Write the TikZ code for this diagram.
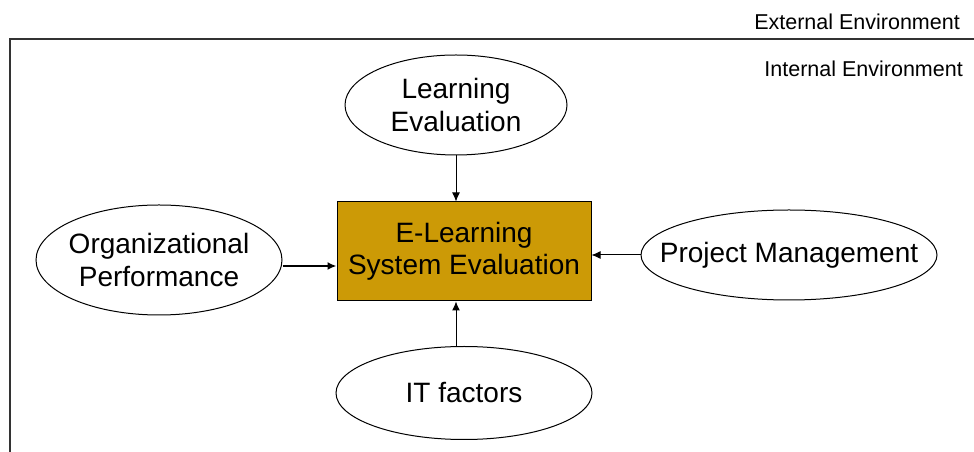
\documentclass[tikz,border=0pt]{standalone}
\usepackage{fontspec}
\setmainfont{Liberation Sans}
\usetikzlibrary{shapes.geometric,arrows.meta}
\definecolor{boxgold}{HTML}{CC9A06}
\definecolor{framegray}{HTML}{333333}
\tikzset{
  oval/.style={ellipse, draw=black, line width=1pt, fill=white, inner xsep=-45pt, inner ysep=-12pt, align=center, font=\fontsize{28}{33}\selectfont},
  mainbox/.style={rectangle, draw=black, line width=1pt, fill=boxgold, inner sep=0pt, align=center, font=\fontsize{28}{32}\selectfont},
  envlabel/.style={anchor=east, font=\fontsize{21.5}{24}\selectfont, inner sep=0pt},
  conn/.style={-{Latex[length=9pt,width=8pt]}, line width=1pt},
  thickconn/.style={-{Latex[length=9pt,width=8pt]}, line width=2pt},
}
\begin{document}
\begin{tikzpicture}[x=1pt,y=1pt]
\useasboundingbox (0,0) rectangle (974,452);
% frame
\draw[framegray, line width=2.2pt] (974,413) -- (10,413) -- (10,0);
\node[envlabel] (ext) at (960,430) {External Environment};
\node[envlabel] (int) at (963,383) {Internal Environment};
% nodes
\node[mainbox, minimum width=254pt, minimum height=99pt] (sys) at (464,200.5) {E-Learning\\System Evaluation};
\node[oval, minimum width=222pt, minimum height=100pt] (learn) at (456,347) {Learning\\Evaluation};
\node[oval, minimum width=246pt, minimum height=110pt] (org) at (159,192) {Organizational\\Performance};
\node[oval, minimum width=296pt, minimum height=90pt] (proj) at (789,197) {Project Management};
\node[oval, minimum width=256pt, minimum height=93pt] (it) at (464,59) {IT factors};
\coordinate (itTop) at (456,105.3);
% connectors
\draw[conn] (learn.south) -- (learn.south |- sys.north);
\draw[thickconn] (org.east |- 0,186) -- (sys.west |- 0,186);
\draw[conn] (proj.west) -- (sys.east |- proj.west);
\draw[conn] (itTop) -- (itTop |- sys.south);
\end{tikzpicture}
\end{document}
